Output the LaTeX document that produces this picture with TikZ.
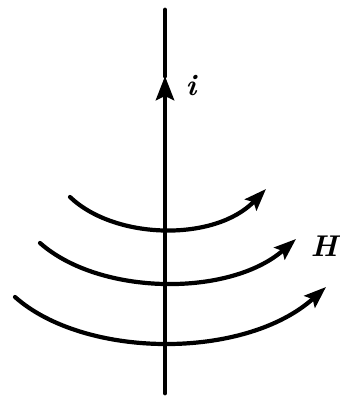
\documentclass[tikz,border=0pt]{standalone}
\usepackage{amsmath,amssymb}
\usetikzlibrary{arrows.meta}

\begin{document}
\begin{tikzpicture}[>=Stealth, x=0.5pt, y=-0.5pt,
      wire/.style={line width=2.4pt, line cap=round},
      fld/.style={line width=2.1pt, line cap=round,
                  -{Stealth[length=11pt, width=8pt, inset=2pt]}},
      lbl/.style={font=\fontsize{15}{18}\selectfont\bfseries\itshape}]

    \useasboundingbox (0,0) rectangle (339,398);

    % current-carrying wire
    \coordinate (top) at (165,10);
    \coordinate (mid) at (165,76);
    \coordinate (bot) at (165,393);
    \draw[wire, -{Stealth[length=12pt, width=9pt, inset=2pt]}] (bot) -- (mid);
    \draw[wire] (mid) -- (top);
    \node[lbl] (ilbl) at (191,86) {i};

    % field lines
    \coordinate (a1) at (70,197);  \coordinate (b1) at (266,189);
    \coordinate (a2) at (40,243);  \coordinate (b2) at (296,239);
    \coordinate (a3) at (15,297);  \coordinate (b3) at (326,287);
    \draw[fld] (a1) .. controls (115,240) and (215,242) .. (b1);
    \draw[fld] (a2) .. controls (100,296) and (230,297) .. (b2);
    \draw[fld] (a3) .. controls (85,359) and (245,360) .. (b3);
    \node[lbl] (hlbl) at (324,246) {H};

\end{tikzpicture}
\end{document}
